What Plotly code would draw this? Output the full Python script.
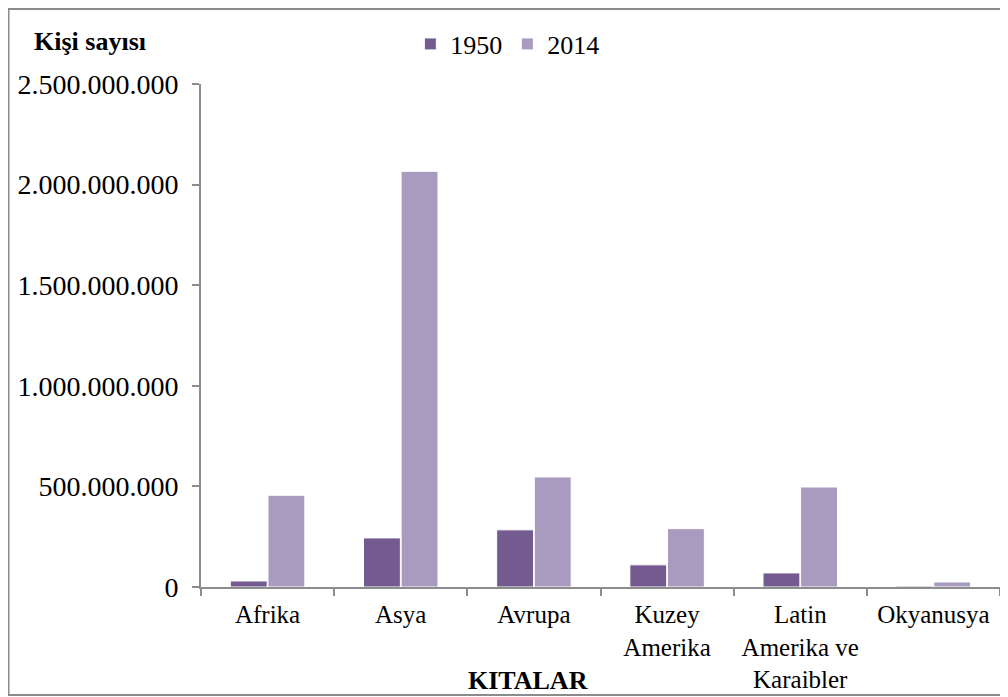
import plotly.graph_objects as go

categories = ["Afrika", "Asya", "Avrupa", "Kuzey<br>Amerika", "Latin<br>Amerika ve<br>Karaibler", "Okyanusya"]
values_1950 = [30_000_000, 244_000_000, 284_000_000, 110_000_000, 70_000_000, 5_000_000]
values_2014 = [456_000_000, 2_066_000_000, 547_000_000, 290_000_000, 497_000_000, 25_000_000]
tick_vals = [0, 500_000_000, 1_000_000_000, 1_500_000_000, 2_000_000_000, 2_500_000_000]
tick_text = ["0", "500.000.000", "1.000.000.000", "1.500.000.000", "2.000.000.000", "2.500.000.000"]

FONT = "Liberation Serif"

fig = go.Figure()
fig.add_trace(go.Bar(name="1950", x=categories, y=values_1950,
                     marker=dict(color="#735A8F", line=dict(color="white", width=1))))
fig.add_trace(go.Bar(name="2014", x=categories, y=values_2014,
                     marker=dict(color="#A99ABF", line=dict(color="white", width=1))))

fig.update_layout(
    width=1008, height=697,
    margin=dict(l=193, r=16, t=76, b=118, autoexpand=False),
    paper_bgcolor="white", plot_bgcolor="white",
    barmode="group", bargap=0.435, bargroupgap=0.02,
    font=dict(family=FONT, size=26, color="black"),
    showlegend=True,
    legend=dict(orientation="h", x=0.262, y=1.0795, xanchor="left", yanchor="middle",
                font=dict(family=FONT, size=26), traceorder="normal",
                itemwidth=30, tracegroupgap=0),
    xaxis=dict(showline=True, linecolor="#8c8c8c", linewidth=2, ticks="outside",
               ticklen=7, tickcolor="#8c8c8c", tickwidth=2, tickson="boundaries",
               tickfont=dict(family=FONT, size=25), showgrid=False, automargin=False,
               ticklabelstandoff=4),
    yaxis=dict(range=[0, 2_500_000_000], tickvals=tick_vals, ticktext=tick_text,
               showline=True, linecolor="#8c8c8c", linewidth=2, ticks="outside",
               ticklen=7, tickcolor="#8c8c8c", tickwidth=2, showgrid=False,
               zeroline=False, tickfont=dict(family=FONT, size=28), automargin=False,
               ticklabelstandoff=8),
    shapes=[dict(type="rect", xref="paper", yref="paper", x0=-0.2409, x1=1.04,
                 y0=-0.2147, y1=1.149, line=dict(color="#8c8c8c", width=2),
                 fillcolor="rgba(0,0,0,0)", layer="below")],
    annotations=[
        dict(text="<b>Kişi sayısı</b>", xref="paper", yref="paper", x=-0.2115, y=1.0835,
             xanchor="left", yanchor="middle", showarrow=False,
             font=dict(family=FONT, size=26)),
        dict(text="<b>KITALAR</b>", xref="paper", yref="paper", x=0.409, y=-0.185,
             xanchor="center", yanchor="middle", showarrow=False,
             font=dict(family=FONT, size=26)),
    ],
)

fig.write_html("out.html")
